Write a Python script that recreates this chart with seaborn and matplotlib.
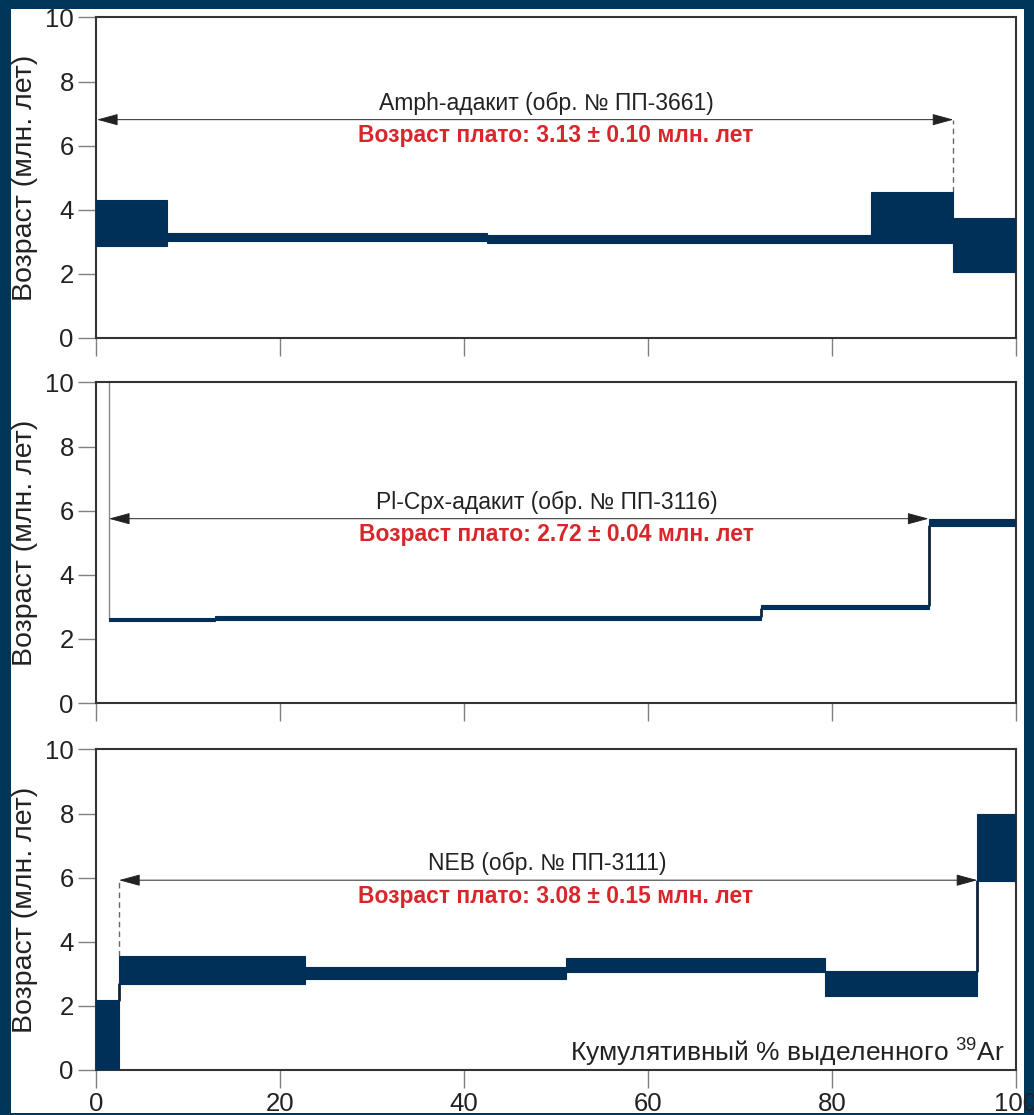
import matplotlib
matplotlib.use("Agg")
import matplotlib.pyplot as plt
import seaborn as sns

# ===== Data: step boundaries (cumulative % 39Ar) and age ranges (Ma) =====
amph_edges = [0, 7.7, 42.5, 84.2, 93.2, 100]
amph_lo = [2.88, 3.03, 2.95, 2.97, 2.06]
amph_hi = [4.31, 3.28, 3.22, 4.56, 3.75]

plx_edges = [1.4, 12.9, 72.3, 90.5, 100]
plx_lo = [2.55, 2.58, 2.92, 5.52]
plx_hi = [2.66, 2.70, 3.05, 5.75]

neb_edges = [0, 2.5, 22.7, 51.1, 79.2, 95.8, 100]
neb_lo = [0, 2.69, 2.85, 3.05, 2.30, 5.90]
neb_hi = [2.19, 3.56, 3.20, 3.48, 3.08, 7.97]

sample_names = ["Amph-адакит (обр. № ПП-3661)",
                "Pl-Cpx-адакит (обр. № ПП-3116)",
                "NEB (обр. № ПП-3111)"]
plateau_text = ["Возраст плато: 3.13 ± 0.10 млн. лет",
                "Возраст плато: 2.72 ± 0.04 млн. лет",
                "Возраст плато: 3.08 ± 0.15 млн. лет"]
plateau_start = [0.1, 1.4, 2.5]
plateau_end = [93.2, 90.5, 95.8]
plateau_arrow_y = [6.81, 5.75, 5.92]

NAVY = "#003057"
BG = "#00365a"

sns.set_theme(style="white")
plt.rcParams['font.family'] = ['Liberation Sans', 'DejaVu Sans']

fig = plt.figure(figsize=(10.34, 11.15), dpi=100, facecolor=BG)
fig.patches.append(plt.Rectangle((11 / 1034, 2 / 1115), 1013 / 1034, 1104 / 1115,
                                 transform=fig.transFigure, facecolor="white",
                                 edgecolor="none", zorder=-10))

panels = [(amph_edges, amph_lo, amph_hi, 0.6969),
          (plx_edges, plx_lo, plx_hi, 0.3695),
          (neb_edges, neb_lo, neb_hi, 0.0404)]

for i, (edges, lo, hi, bottom) in enumerate(panels):
    ax = fig.add_axes([96 / 1034, bottom, 920 / 1034, 0.2875])
    ax.set_facecolor("white")

    widths = [edges[k + 1] - edges[k] for k in range(len(lo))]
    heights = [hi[k] - lo[k] for k in range(len(lo))]
    ax.bar(edges[:-1], heights, width=widths, bottom=lo, align="edge",
           color=NAVY, edgecolor=NAVY, linewidth=0.8, zorder=3)

    # vertical connectors between steps that do not overlap
    for k in range(len(lo) - 1):
        if hi[k] < lo[k + 1]:
            ax.plot([edges[k + 1]] * 2, [hi[k], lo[k + 1]], color="#10233a", lw=2, zorder=2)
        elif lo[k] > hi[k + 1]:
            ax.plot([edges[k + 1]] * 2, [hi[k + 1], lo[k]], color="#10233a", lw=2, zorder=2)

    # plateau arrow
    y_ar = plateau_arrow_y[i]
    ax.annotate("", xy=(plateau_start[i], y_ar), xytext=(plateau_end[i], y_ar),
                arrowprops=dict(arrowstyle="<|-|>,head_length=1.1,head_width=0.3",
                                color="#222222", lw=0.7, shrinkA=0, shrinkB=0),
                zorder=4)

    ax.text(49, y_ar + 0.52, sample_names[i], ha="center", va="center",
            fontsize=16.5, color="#222222")
    ax.text(50, y_ar - 0.5, plateau_text[i], ha="center", va="center",
            fontsize=16.5, color="#d8262b", fontweight="bold")

    ax.set_xlim(0, 100)
    ax.set_ylim(0, 10)
    ax.set_xticks([0, 20, 40, 60, 80, 100])
    ax.set_yticks([0, 2, 4, 6, 8, 10])
    ax.tick_params(axis="both", direction="out", length=13, width=1, color="#808080",
                   labelsize=18.5, labelcolor="#222222", pad=3)
    ax.tick_params(left=True, bottom=True)
    if i < 2:
        ax.set_xticklabels([])
    for sp in ax.spines.values():
        sp.set_color("#333333")
        sp.set_linewidth(1.5)
        sp.set_visible(True)

    # y axis title, placed in figure pixels like the reference
    fig.text(25 / 1034, bottom + 0.2875 / 2, "Возраст (млн. лет)", rotation=90,
             ha="center", va="center", fontsize=20.5, color="#222222")

    if i == 0:
        ax.plot([plateau_end[0]] * 2, [amph_hi[3], y_ar], ls=(0, (4, 3)), color="#666666", lw=1, zorder=2)
    elif i == 1:
        ax.plot([plateau_start[1]] * 2, [plx_hi[0], 10], color="#888888", lw=1, zorder=2)
    else:
        ax.plot([plateau_start[2]] * 2, [neb_hi[1], y_ar], ls=(0, (4, 3)), color="#666666", lw=1, zorder=2)
        ax.text(98.8, 0.56, "Кумулятивный % выделенного $^{\\mathregular{39}}$Ar", ha="right", va="center",
                fontsize=19, color="#222222")

fig.savefig("out.png", dpi=100, facecolor=BG)
